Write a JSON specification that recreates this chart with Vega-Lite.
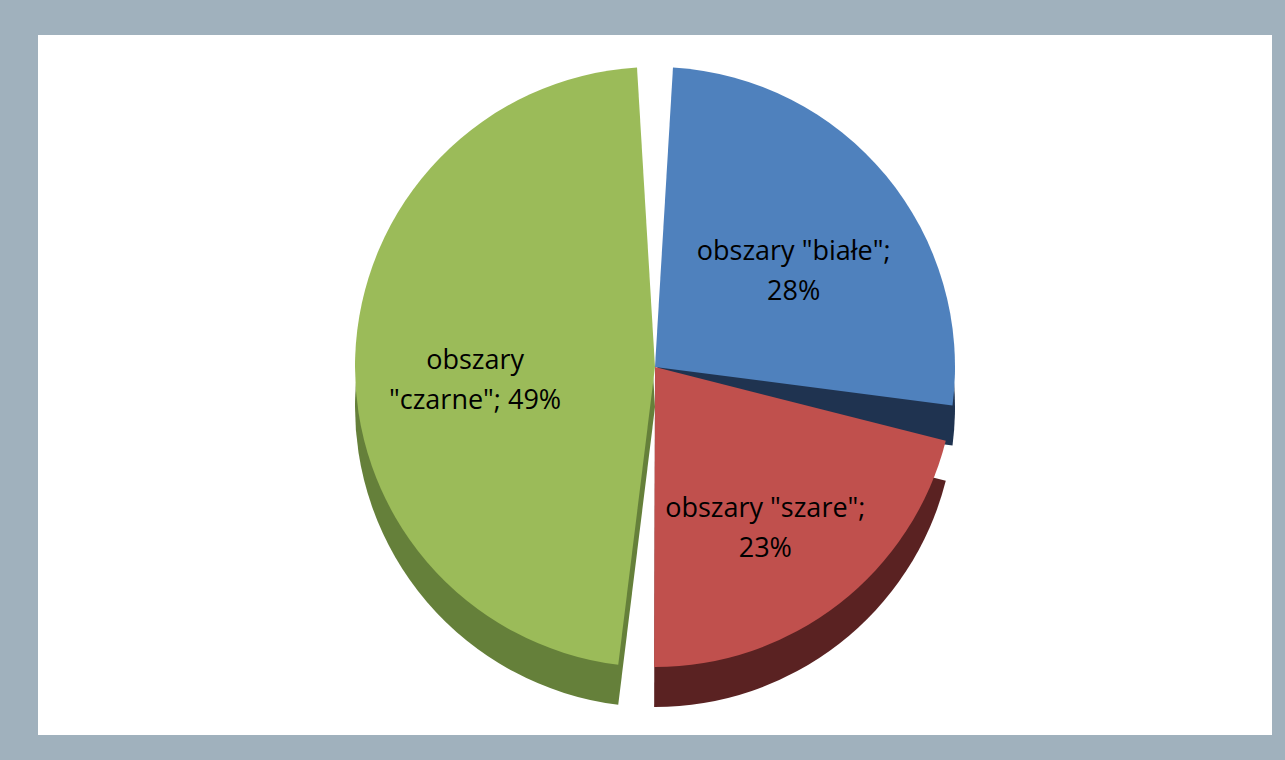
{
  "$schema": "https://vega.github.io/schema/vega-lite/v6.json",
  "autosize": "none",
  "width": 1234,
  "height": 700,
  "padding": {"left": 38, "top": 35, "right": 13, "bottom": 25},
  "background": "#a0b1bd",
  "view": {"fill": "white", "stroke": null},
  "config": {"view": {"fill": "white", "stroke": null}},
  "data": {
    "values": [
      {"category": "obszary \"białe\"", "value": 28, "order": 1, "label": "obszary \"białe\";\n28%"},
      {"category": "obszary \"szare\"", "value": 23, "order": 2, "label": "obszary \"szare\";\n23%"},
      {"category": "obszary \"czarne\"", "value": 49, "order": 3, "label": "obszary\n\"czarne\"; 49%"}
    ]
  },
  "encoding": {
    "theta": {"field": "value", "type": "quantitative", "stack": true},
    "order": {"field": "order", "type": "quantitative"}
  },
  "layer": [
    {
      "mark": {"type": "arc", "radius": 300, "padAngle": 0.12, "yOffset": 22},
      "encoding": {
        "color": {
          "field": "category",
          "type": "nominal",
          "scale": {
            "domain": ["obszary \"białe\"", "obszary \"szare\"", "obszary \"czarne\""],
            "range": ["#1f3350", "#5a2222", "#65803a"]
          },
          "legend": null
        }
      }
    },
    {
      "mark": {"type": "arc", "radius": 300, "padAngle": 0.12, "yOffset": -18},
      "encoding": {
        "color": {
          "field": "category",
          "type": "nominal",
          "scale": {
            "domain": ["obszary \"białe\"", "obszary \"szare\"", "obszary \"czarne\""],
            "range": ["#4f81bd", "#c0504d", "#9bbb59"]
          },
          "legend": null
        }
      }
    },
    {
      "mark": {"type": "text", "radius": 180, "yOffset": -18, "fontSize": 27, "font": "Open Sans", "fill": "black", "lineBreak": "\n", "lineHeight": 40, "align": "center", "baseline": "middle"},
      "encoding": {
        "text": {"field": "label", "type": "nominal"}
      }
    }
  ],
  "resolve": {"scale": {"color": "independent"}}
}
